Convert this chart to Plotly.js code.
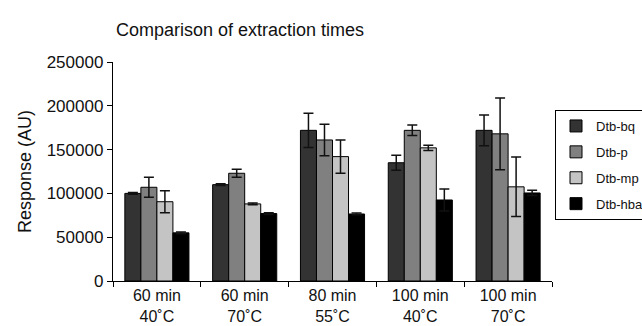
<!DOCTYPE html>
<html>
<head>
<meta charset="utf-8">
<script src="https://cdn.plot.ly/plotly-3.0.1.min.js"></script>
<style>html,body{margin:0;padding:0;background:#fff;}#chart{width:642px;height:326px;}</style>
</head>
<body>
<div id="chart"></div>
<script>
var categories = ["60 min<br>40˚C", "60 min<br>70˚C", "80 min<br>55˚C", "100 min<br>40˚C", "100 min<br>70˚C"];
var seriesNames = ["Dtb-bq", "Dtb-p", "Dtb-mp", "Dtb-hba"];
var dtbBq = [100000, 110000, 172000, 135000, 172000];
var dtbBqErr = [1000, 1000, 19500, 8500, 17500];
var dtbP = [107000, 123000, 161000, 172000, 168000];
var dtbPErr = [11500, 4500, 18000, 6000, 41000];
var dtbMp = [90500, 88000, 142000, 152000, 107500];
var dtbMpErr = [12500, 1000, 19000, 3000, 34000];
var dtbHba = [55000, 77000, 76500, 92500, 100500];
var dtbHbaErr = [1000, 1000, 1000, 12500, 3000];
var yTicks = [0, 50000, 100000, 150000, 200000, 250000];

var colors = ["#333333", "#808080", "#c4c4c4", "#000000"];
var values = [dtbBq, dtbP, dtbMp, dtbHba];
var errs = [dtbBqErr, dtbPErr, dtbMpErr, dtbHbaErr];

var traces = seriesNames.map(function (name, i) {
  return {
    type: "bar",
    name: name,
    x: categories,
    y: values[i],
    legendgroup: name,
    marker: { color: colors[i], line: { color: "#000", width: 1 } },
    error_y: { type: "data", array: errs[i], visible: true, color: "#111", thickness: 1.5, width: 5 }
  };
});

var layout = {
  width: 642,
  height: 326,
  margin: { l: 113, r: 90, t: 62, b: 45 },
  paper_bgcolor: "#fff",
  plot_bgcolor: "#fff",
  font: { family: "Liberation Sans, Arial, sans-serif", color: "#111", size: 16 },
  barmode: "group",
  bargap: 0.27,
  bargroupgap: 0,
  showlegend: true,
  title: {
    text: "Comparison of extraction times",
    x: 116 / 642, xanchor: "left", xref: "container",
    y: 1 - 30 / 326, yanchor: "middle", yref: "container",
    font: { size: 18, color: "#111" }
  },
  xaxis: {
    type: "category",
    showline: true, linecolor: "#000", linewidth: 1.2,
    ticks: "outside", tickson: "boundaries", ticklen: 5, tickcolor: "#000", tickwidth: 1,
    tickfont: { size: 16 },
    showgrid: false, zeroline: false,
    automargin: false
  },
  yaxis: {
    range: [0, 250000],
    tickvals: yTicks,
    ticktext: yTicks.map(String),
    showline: true, linecolor: "#000", linewidth: 1.2,
    ticks: "outside", ticklen: 5, tickcolor: "#000", tickwidth: 1,
    tickfont: { size: 17 },
    showgrid: false, zeroline: false,
    automargin: false,
    title: { text: "Response (AU)", font: { size: 18 }, standoff: 10 }
  },
  legend: {
    xref: "container", yref: "container",
    x: 555 / 642, xanchor: "left",
    y: 1 - 110 / 326, yanchor: "top",
    bordercolor: "#000", borderwidth: 1,
    bgcolor: "#fff",
    font: { size: 13, color: "#111" },
    tracegroupgap: 6,
    traceorder: "grouped",
    itemwidth: 30
  }
};

Plotly.newPlot("chart", traces, layout, { displayModeBar: false, staticPlot: true });
</script>
</body>
</html>
